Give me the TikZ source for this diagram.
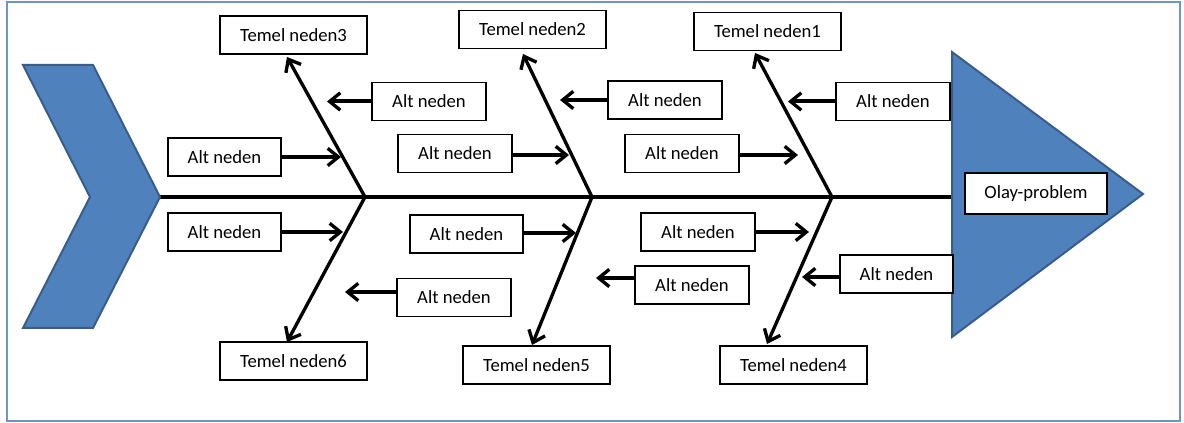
\documentclass[tikz,border=0pt]{standalone}
\usepackage{fontspec}
\setmainfont{Carlito}
\usetikzlibrary{arrows.meta}
\definecolor{shapeblue}{RGB}{79,129,189}
\definecolor{shapeedge}{RGB}{56,93,138}
\definecolor{frameblue}{RGB}{112,148,198}
\tikzset{
  bx/.style={draw=black, line width=1.4pt, fill=white, inner sep=0pt,
    minimum height=28.5pt, font=\fontsize{14}{16}\selectfont},
  altbox/.style={bx, minimum width=85pt},
  temelbox/.style={bx, minimum width=110pt},
  bone/.style={line width=2.5pt, -{Straight Barb[length=8pt,width=13pt,line width=2.5pt]}},
  subarr/.style={line width=3pt, -{Straight Barb[length=8pt,width=13pt,line width=2.5pt]}},
  spine/.style={line width=2.8pt},
  fishpart/.style={fill=shapeblue, draw=shapeedge, line width=1.5pt, line join=miter}
}
\begin{document}
\begin{tikzpicture}[x=0.75pt,y=-0.75pt]
\useasboundingbox (0,0) rectangle (1184,423);
\draw[frameblue, line width=1.2pt] (7,2) rectangle (1180,421);

% spine
\coordinate (tail) at (160,197);
\coordinate (head) at (952,197);
\draw[spine] (tail) -- (head);

% tail chevron and head triangle
\draw[fishpart] (23,65) -- (93,65) -- (160,197) -- (93,328) -- (23,328) -- (90,197) -- cycle;
\draw[fishpart] (952,52) -- (1143,194) -- (952,337) -- cycle;
\node[bx, minimum width=106.5pt, minimum height=30.5pt] (olay) at (1036,193.5) {Olay-problem};

% junctions on the spine
\coordinate (j3) at (365,197);
\coordinate (j2) at (592,197);
\coordinate (j1) at (832,197);

% main causes
\node[temelbox] (T3) at (293.5,35) {Temel neden3};
\node[temelbox] (T2) at (532.5,29.5) {Temel neden2};
\node[temelbox] (T1) at (767.5,31.5) {Temel neden1};
\node[temelbox] (T6) at (293.5,361) {Temel neden6};
\node[temelbox] (T5) at (536.5,365) {Temel neden5};
\node[temelbox] (T4) at (793.5,365) {Temel neden4};

\coordinate (t3) at (287,57);
\coordinate (t6) at (287,342);
\coordinate (t2) at (523,54);
\coordinate (t5) at (532,345);
\coordinate (t1) at (755,53);
\coordinate (t4) at (767,344);

\draw[bone] (j3) -- (t3);
\draw[bone] (j3) -- (t6);
\draw[bone] (j2) -- (t2);
\draw[bone] (j2) -- (t5);
\draw[bone] (j1) -- (t1);
\draw[bone] (j1) -- (t4);

% sub causes
\node[altbox] (A1) at (429,101.5) {Alt neden};
\node[altbox] (A2) at (224.5,157) {Alt neden};
\node[altbox] (A3) at (224.5,232) {Alt neden};
\node[altbox] (A4) at (454,297.5) {Alt neden};
\node[altbox] (A5) at (665,100) {Alt neden};
\node[altbox] (A6) at (455,153.5) {Alt neden};
\node[altbox] (A7) at (466.5,234) {Alt neden};
\node[altbox] (A8) at (692,285) {Alt neden};
\node[altbox] (A9) at (893,101.5) {Alt neden};
\node[altbox] (A10) at (682,153.5) {Alt neden};
\node[altbox] (A11) at (698,232) {Alt neden};
\node[altbox] (A12) at (896.5,274) {Alt neden};

\coordinate (a1) at (327,101.5);
\coordinate (a2) at (341,157);
\coordinate (a3) at (343,232);
\coordinate (a4) at (345,292);
\coordinate (a5) at (560,100);
\coordinate (a6) at (569,155);
\coordinate (a7) at (576,233);
\coordinate (a8) at (596,278);
\coordinate (a9) at (788,101.5);
\coordinate (a10) at (798,155);
\coordinate (a11) at (809,232);
\coordinate (a12) at (802,277);

\draw[subarr] (A1.west) -- (a1);
\draw[subarr] (A2.east) -- (a2);
\draw[subarr] (A3.east) -- (a3);
\draw[subarr] (A4.west |- a4) -- (a4);
\draw[subarr] (A5.west) -- (a5);
\draw[subarr] (A6.east |- a6) -- (a6);
\draw[subarr] (A7.east |- a7) -- (a7);
\draw[subarr] (A8.west |- a8) -- (a8);
\draw[subarr] (A9.west) -- (a9);
\draw[subarr] (A10.east |- a10) -- (a10);
\draw[subarr] (A11.east) -- (a11);
\draw[subarr] (A12.west |- a12) -- (a12);
\end{tikzpicture}
\end{document}
